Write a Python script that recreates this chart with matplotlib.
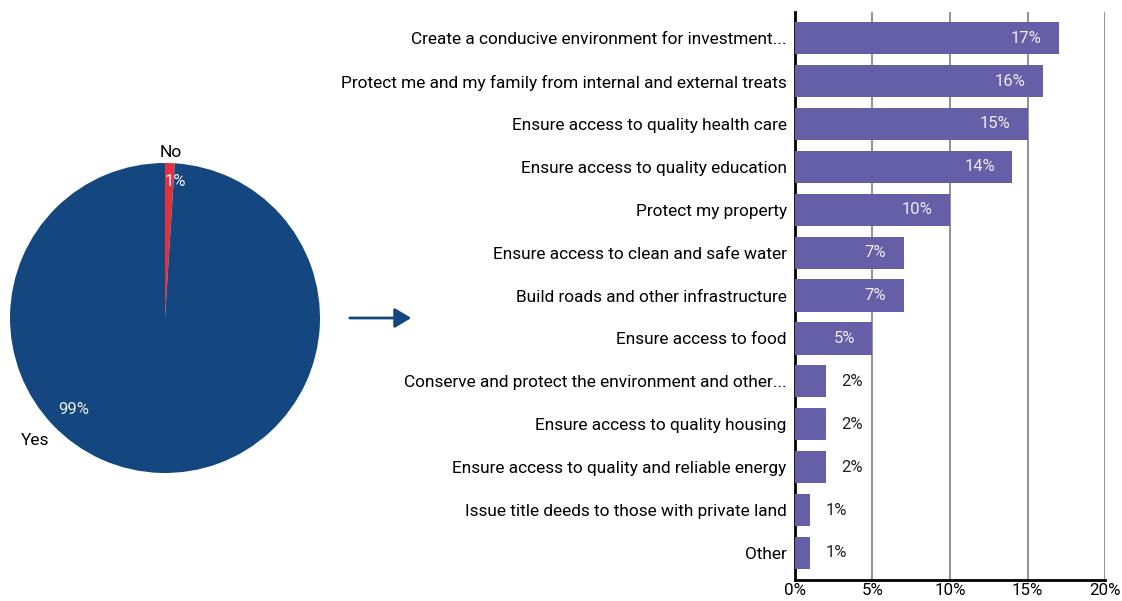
import matplotlib.pyplot as plt
from matplotlib.patches import FancyArrowPatch

plt.rcParams["font.family"] = ["Roboto", "DejaVu Sans"]

pie_labels = ["No", "Yes"]
pie_values = [1, 99]
pie_colors = ["#e0323f", "#14477f"]

categories = [
    "Create a conducive environment for investment...",
    "Protect me and my family from internal and external treats",
    "Ensure access to quality health care",
    "Ensure access to quality education",
    "Protect my property",
    "Ensure access to clean and safe water",
    "Build roads and other infrastructure",
    "Ensure access to food",
    "Conserve and protect the environment and other...",
    "Ensure access to quality housing",
    "Ensure access to quality and reliable energy",
    "Issue title deeds to those with private land",
    "Other",
]
values = [17, 16, 15, 14, 10, 7, 7, 5, 2, 2, 2, 1, 1]
bar_color = "#645fa6"

fig = plt.figure(figsize=(11.22, 6.01), dpi=100)
W, H = 1122, 601

# pie
ax_pie = fig.add_axes([10 / W, 1 - 473 / H, 310 / W, 310 / H])
ax_pie.pie(pie_values, colors=pie_colors, startangle=90, counterclock=False,
           radius=1, wedgeprops={"linewidth": 0})
ax_pie.set_xlim(-1, 1)
ax_pie.set_ylim(-1, 1)
ax_pie.set_aspect("equal")
ax_pie.text(0.04, 1.02, pie_labels[0], ha="center", va="bottom", fontsize=12.5)
ax_pie.text(0.07, 0.88, f"{pie_values[0]}%", ha="center", va="center", fontsize=12, color="#f0f0f5")
ax_pie.text(-0.59, -0.59, f"{pie_values[1]}%", ha="center", va="center", fontsize=12, color="#f0f0f5")
ax_pie.text(-0.84, -0.79, pie_labels[1], ha="center", va="center", fontsize=12.5)

# arrow
arrow = FancyArrowPatch((347 / W, 1 - 318 / H), (414 / W, 1 - 318 / H),
                        transform=fig.transFigure, arrowstyle="-|>,head_length=10,head_width=6",
                        color="#14477f", lw=2)
fig.patches.append(arrow)

# bars
ax = fig.add_axes([795 / W, 1 - 580 / H, 310 / W, 568 / H])
y = list(range(len(categories)))
ax.barh(y, values, color=bar_color, height=0.75, zorder=3)
ax.set_ylim(len(categories) - 0.37, -0.61)
ax.set_xlim(0, 20)
ax.set_xticks([0, 5, 10, 15, 20])
ax.set_xticklabels([f"{v}%" for v in [0, 5, 10, 15, 20]], fontsize=12.2)
ax.set_yticks(y)
ax.set_yticklabels(categories, fontsize=12.4)
ax.tick_params(length=0, pad=6)
ax.tick_params(axis="x", pad=2)
ax.xaxis.grid(True, color="#7f7f7f", lw=1.2, zorder=0)
for s in ["top", "right"]:
    ax.spines[s].set_visible(False)
ax.spines["left"].set_linewidth(2)
ax.spines["bottom"].set_linewidth(2)
for yi, v in zip(y, values):
    if v >= 5:
        ax.text(v - 1.1, yi, f"{v}%", ha="right", va="center", fontsize=12, color="#ececf4", zorder=4)
    else:
        ax.text(v + 1.0, yi, f"{v}%", ha="left", va="center", fontsize=12, color="#222222", zorder=4)

fig.savefig("out.png", dpi=100)
